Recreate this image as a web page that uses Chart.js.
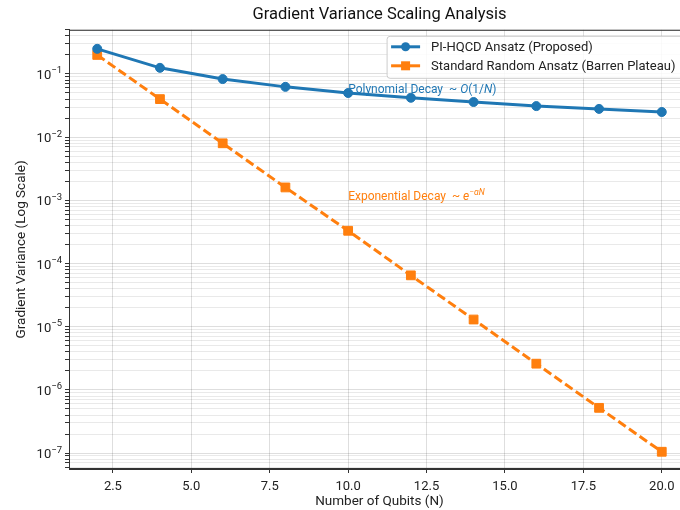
<!DOCTYPE html>
<html>
<head>
<meta charset="utf-8">
<title>Gradient Variance Scaling Analysis</title>
<script src="https://cdn.jsdelivr.net/npm/chart.js@4.4.1/dist/chart.umd.min.js"></script>
<style>
  html, body { margin: 0; padding: 0; overflow: hidden; background: #fff; }
  canvas { display: block; }
</style>
</head>
<body>
<canvas id="scalingChart" width="700" height="510"></canvas>
<script>
// values
var qubits = [2, 4, 6, 8, 10, 12, 14, 16, 18, 20];
var proposedVariance = [0.25, 0.125, 0.083, 0.0625, 0.05, 0.042, 0.036, 0.031, 0.028, 0.025];
var randomVariance = [0.2, 0.04, 0.008, 0.0016, 0.00033, 0.000065, 0.000013, 0.0000026, 0.00000052, 0.000000105];
var seriesLabels = ['PI-HQCD Ansatz (Proposed)', 'Standard Random Ansatz (Barren Plateau)'];

var xTickValues = [2.5, 5, 7.5, 10, 12.5, 15, 17.5, 20];
var yTickValues = [1e-7, 1e-6, 1e-5, 1e-4, 1e-3, 1e-2, 1e-1];
var yTickExponents = ['−7', '−6', '−5', '−4', '−3', '−2', '−1'];

var blue = '#1f77b4';
var orange = '#ff7f0e';
var fontFamily = 'Roboto, "Liberation Sans", sans-serif';

var yMin = 5.6e-8, yMax = 0.5;

// major + minor log ticks (minor ones carry no label)
function buildLogTicks() {
  var ticks = [];
  for (var e = -8; e <= 0; e++) {
    for (var m = 1; m <= 9; m++) {
      var v = m * Math.pow(10, e);
      if (v >= yMin && v <= yMax) ticks.push({ value: v, major: m === 1 });
    }
  }
  return ticks;
}

// text runs: [text, italic, superscript]
function drawRuns(ctx, x, y, runs, color, size) {
  ctx.fillStyle = color;
  ctx.textBaseline = 'alphabetic';
  ctx.textAlign = 'left';
  runs.forEach(function(r) {
    var sz = r[2] ? size * 0.72 : size;
    ctx.font = (r[1] ? 'italic ' : '') + sz + 'px ' + fontFamily;
    ctx.fillText(r[0], x, r[2] ? y - size * 0.45 : y);
    x += ctx.measureText(r[0]).width;
  });
}

var decorations = {
  id: 'decorations',
  afterDatasetsDraw: function(chart) {
    var ctx = chart.ctx, xs = chart.scales.x, ys = chart.scales.y;
    ctx.save();
    drawRuns(ctx, xs.getPixelForValue(10), ys.getPixelForValue(0.05),
      [['Polynomial Decay  ~ ', false], ['O', true], ['(1/', false], ['N', true], [')', false]], blue, 12);
    drawRuns(ctx, xs.getPixelForValue(10), ys.getPixelForValue(1e-3),
      [['Exponential Decay  ~ ', false], ['e', true], ['−αN', true, true]], orange, 12);
    ctx.restore();
  },
  afterDraw: function(chart) {
    var ctx = chart.ctx, a = chart.chartArea, ys = chart.scales.y;
    ctx.save();
    // frame
    ctx.strokeStyle = '#333';
    ctx.lineWidth = 1;
    ctx.strokeRect(a.left + 0.5, a.top + 0.5, a.right - a.left - 1, a.bottom - a.top - 1);

    // y tick labels as 10 with a raised exponent
    ctx.fillStyle = '#222';
    ctx.textBaseline = 'alphabetic';
    ctx.textAlign = 'right';
    yTickValues.forEach(function(v, i) {
      var y = ys.getPixelForValue(v);
      var xr = a.left - 7;
      ctx.font = '9.5px ' + fontFamily;
      ctx.fillText(yTickExponents[i], xr, y - 0.5);
      var ew = ctx.measureText(yTickExponents[i]).width;
      ctx.font = '13px ' + fontFamily;
      ctx.fillText('10', xr - ew, y + 5);
    });

    // legend inside upper right
    ctx.font = '13px ' + fontFamily;
    var tw = 0;
    seriesLabels.forEach(function(t) { tw = Math.max(tw, ctx.measureText(t).width); });
    var right = a.right - 6.5, top = a.top + 6.5;
    var w = tw + 52, h = 42;
    var left = right - w;
    ctx.beginPath();
    ctx.roundRect(left, top, w, h, 3);
    ctx.fillStyle = 'rgba(255,255,255,0.85)';
    ctx.fill();
    ctx.strokeStyle = '#cccccc';
    ctx.stroke();
    chart.data.datasets.forEach(function(ds, i) {
      var cy = top + 10.5 + i * 19;
      ctx.strokeStyle = ds.borderColor;
      ctx.lineWidth = 3;
      ctx.setLineDash([]);
      ctx.beginPath();
      ctx.moveTo(left + 4, cy);
      ctx.lineTo(left + 33, cy);
      ctx.stroke();
      ctx.fillStyle = ds.borderColor;
      if (ds.pointStyle === 'rect') {
        ctx.fillRect(left + 18.5 - 4.5, cy - 4.5, 9, 9);
      } else {
        ctx.beginPath();
        ctx.arc(left + 18.5, cy, 4.5, 0, Math.PI * 2);
        ctx.fill();
      }
      ctx.fillStyle = '#222';
      ctx.textBaseline = 'middle';
      ctx.textAlign = 'left';
      ctx.fillText(ds.label, left + 44, cy + 0.5);
    });
    ctx.restore();
  }
};

var ctx = document.getElementById('scalingChart').getContext('2d');
var chart = new Chart(ctx, {
  type: 'line',
  data: {
    datasets: [{
      label: seriesLabels[0],
      data: qubits.map(function(n, i) { return { x: n, y: proposedVariance[i] }; }),
      borderColor: blue,
      backgroundColor: blue,
      borderWidth: 3,
      pointStyle: 'circle',
      pointRadius: 4.5,
      pointBorderWidth: 1,
      tension: 0
    }, {
      label: seriesLabels[1],
      data: qubits.map(function(n, i) { return { x: n, y: randomVariance[i] }; }),
      borderColor: orange,
      backgroundColor: orange,
      borderWidth: 3,
      borderDash: [9, 4],
      pointStyle: 'rect',
      pointRadius: 6.2,
      pointBorderWidth: 1,
      tension: 0
    }]
  },
  options: {
    responsive: false,
    devicePixelRatio: 1,
    animation: false,
    layout: { padding: { left: 0, right: 10, top: 0, bottom: 0 } },
    plugins: {
      legend: { display: false },
      tooltip: { enabled: false },
      title: {
        display: true,
        text: 'Gradient Variance Scaling Analysis',
        fullSize: false,
        color: '#111',
        font: { family: fontFamily, size: 16.5, weight: 'normal' },
        padding: { top: 5, bottom: 5 }
      }
    },
    scales: {
      x: {
        type: 'linear',
        min: 1.1,
        max: 20.9,
        afterBuildTicks: function(s) { s.ticks = xTickValues.map(function(v) { return { value: v }; }); },
        afterFit: function(s) { s.height = 41; },
        grid: { color: 'rgba(0,0,0,0.13)', tickLength: 4, tickColor: '#333' },
        border: { color: '#333', width: 1 },
        ticks: {
          autoSkip: false, maxRotation: 0, padding: 6, color: '#222',
          font: { family: fontFamily, size: 13 },
          callback: function(v) { return Number(v).toFixed(1); }
        },
        title: {
          display: true, text: 'Number of Qubits (N)', color: '#222',
          font: { family: fontFamily, size: 13.5 }, padding: { top: 0, bottom: 0 }
        }
      },
      y: {
        type: 'logarithmic',
        min: yMin,
        max: yMax,
        afterBuildTicks: function(s) { s.ticks = buildLogTicks(); },
        afterFit: function(s) { s.width = 69; },
        grid: {
          color: function(c) { return c.tick && c.tick.major ? 'rgba(0,0,0,0.13)' : 'rgba(0,0,0,0.085)'; },
          tickLength: 4,
          tickColor: '#333'
        },
        border: { color: '#333', width: 1 },
        ticks: {
          autoSkip: false, padding: 5,
          callback: function() { return ''; }
        },
        title: {
          display: true, text: 'Gradient Variance (Log Scale)', color: '#222',
          font: { family: fontFamily, size: 13.5 }, padding: { top: 14, bottom: 0 }
        }
      }
    }
  },
  plugins: [decorations]
});
</script>
</body>
</html>
